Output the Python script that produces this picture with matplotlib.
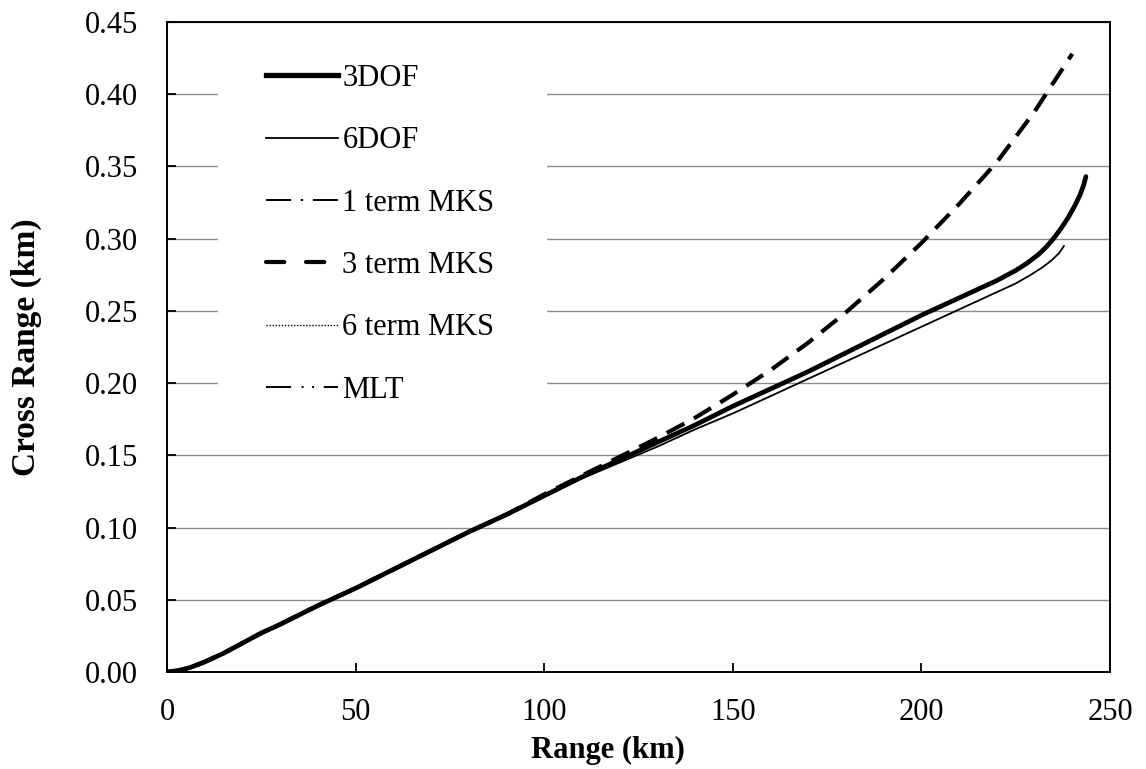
import matplotlib
matplotlib.use("Agg")
import matplotlib.pyplot as plt
from matplotlib.patches import Rectangle
from matplotlib.lines import Line2D

# ==========================================
# Trajectory data (Range vs Cross Range, km)
# ==========================================
range_3dof = [0, 3, 6, 10, 15, 20, 25, 30, 40, 50, 60, 70, 80, 90, 100, 110,
              120, 130, 140, 150, 160, 170, 180, 190, 200, 210, 220, 225, 228,
              231, 233, 235, 237, 239, 240.5, 242, 243, 243.6]
cross_3dof = [0.000, 0.001, 0.003, 0.007, 0.013, 0.020, 0.027, 0.033, 0.046,
              0.058, 0.071, 0.084, 0.097, 0.109, 0.122, 0.135, 0.147, 0.159,
              0.171, 0.184, 0.196, 0.208, 0.221, 0.234, 0.247, 0.259, 0.271,
              0.278, 0.283, 0.289, 0.294, 0.300, 0.307, 0.315, 0.322, 0.330,
              0.337, 0.343]

range_6dof = [0, 3, 6, 10, 15, 20, 25, 30, 40, 50, 60, 70, 80, 90, 100, 110,
              120, 130, 140, 150, 160, 170, 180, 190, 200, 210, 220, 225, 229,
              232, 234.5, 236.5, 237.8]
cross_6dof = [0.000, 0.001, 0.003, 0.007, 0.013, 0.020, 0.027, 0.033, 0.046,
              0.058, 0.071, 0.084, 0.097, 0.109, 0.122, 0.134, 0.145, 0.156,
              0.168, 0.179, 0.191, 0.203, 0.215, 0.227, 0.239, 0.251, 0.263,
              0.269, 0.275, 0.280, 0.285, 0.290, 0.295]

range_mks3 = [0, 3, 6, 10, 15, 20, 25, 30, 40, 50, 60, 70, 80, 90, 100, 110,
              120, 130, 140, 150, 160, 170, 180, 190, 200, 210, 220, 230, 235,
              240]
cross_mks3 = [0.000, 0.001, 0.003, 0.007, 0.013, 0.020, 0.027, 0.033, 0.046,
              0.058, 0.071, 0.084, 0.097, 0.109, 0.123, 0.136, 0.149, 0.162,
              0.176, 0.192, 0.209, 0.228, 0.249, 0.272, 0.297, 0.324, 0.353,
              0.388, 0.408, 0.428]

# these three sit on top of the 3DOF solution
range_mks1, cross_mks1 = range_3dof, cross_3dof
range_mks6, cross_mks6 = range_3dof, cross_3dof
range_mlt, cross_mlt = range_3dof, cross_3dof

x_ticks = [0, 50, 100, 150, 200, 250]
y_ticks = [0.00, 0.05, 0.10, 0.15, 0.20, 0.25, 0.30, 0.35, 0.40, 0.45]
# ==========================================

plt.rcParams['font.family'] = ['Liberation Serif', 'DejaVu Serif']
FS = 22

# line styles: (linewidth, dash pattern in the plot, dash pattern in the key)
STYLES = {
    '3DOF':       dict(lw=3.4, plot=None, key=None),
    '6DOF':       dict(lw=1.3, plot=None, key=None),
    '1 term MKS': dict(lw=1.4, plot=(8, 3, 1, 3), key=(12.9, 5.0, 1.2, 5.0)),
    '3 term MKS': dict(lw=3.0, plot=(4.8, 2.6), key=(4.4, 5.2)),
    '6 term MKS': dict(lw=1.0, plot=(1, 1.2), key=(1, 1.2)),
    'MLT':        dict(lw=1.4, plot=(8, 3, 1, 3, 1, 3),
                       key=(12.9, 5.4, 1.0, 4.4, 1.0, 5.0)),
}

fig = plt.figure(figsize=(11.46, 7.69), dpi=100)
ax = fig.add_axes([0.1457, 0.1261, 0.8229, 0.8453])

series = [
    ('1 term MKS', range_mks1, cross_mks1, 3),
    ('6 term MKS', range_mks6, cross_mks6, 3),
    ('MLT', range_mlt, cross_mlt, 3),
    ('3 term MKS', range_mks3, cross_mks3, 4),
    ('6DOF', range_6dof, cross_6dof, 5),
    ('3DOF', range_3dof, cross_3dof, 6),
]
for name, xs, ys, z in series:
    st = STYLES[name]
    kw = dict(color='black', lw=st['lw'], zorder=z, solid_capstyle='round')
    if st['plot'] is not None:
        kw['dashes'] = st['plot']
    ax.plot(xs, ys, **kw)

ax.set_xlim(0, 250)
ax.set_ylim(0, 0.45)
ax.set_xticks(x_ticks)
ax.set_yticks(y_ticks)
ax.set_xticklabels([str(v) for v in x_ticks])
ax.set_yticklabels([f"{v:.2f}" for v in y_ticks])
ax.tick_params(axis='both', direction='in', length=6.5, width=1.3,
               labelsize=FS, colors='black')
ax.tick_params(axis='x', pad=19)
ax.tick_params(axis='y', pad=21)

ax.yaxis.grid(True, color='#8c8c8c', lw=1.0)
ax.set_axisbelow(True)
for sp in ax.spines.values():
    sp.set_linewidth(1.4)
    sp.set_color('black')

# blank area behind the key
ax.add_patch(Rectangle((0.054, 0.395), 0.349, 0.577, transform=ax.transAxes,
                       facecolor='white', edgecolor='none', zorder=1.5))

ax.set_xlabel('Range (km)', fontsize=FS, fontweight='bold', va='center')
ax.set_ylabel('Cross Range (km)', fontsize=24, fontweight='bold', va='center')
ax.xaxis.set_label_coords(0.468, -0.12)
ax.yaxis.set_label_coords(-0.1495, 0.50)

order = ['3DOF', '6DOF', '1 term MKS', '3 term MKS', '6 term MKS', 'MLT']
proxies = []
for name in order:
    st = STYLES[name]
    kw = dict(color='black', lw=st['lw'] + (0.4 if name == '3DOF' else 0))
    if st['key'] is not None:
        kw['dashes'] = st['key']
        kw['dash_capstyle'] = 'round' if name == '3 term MKS' else 'butt'
    proxies.append(Line2D([], [], **kw))

leg = ax.legend(proxies, order, loc='upper left',
                bbox_to_anchor=(0.105, 0.9353), frameon=False, fontsize=FS,
                borderpad=0, borderaxespad=0, handlelength=2.35,
                handletextpad=0.15, labelspacing=1.09)
leg.set_zorder(7)

fig.savefig('out.png', dpi=100)
